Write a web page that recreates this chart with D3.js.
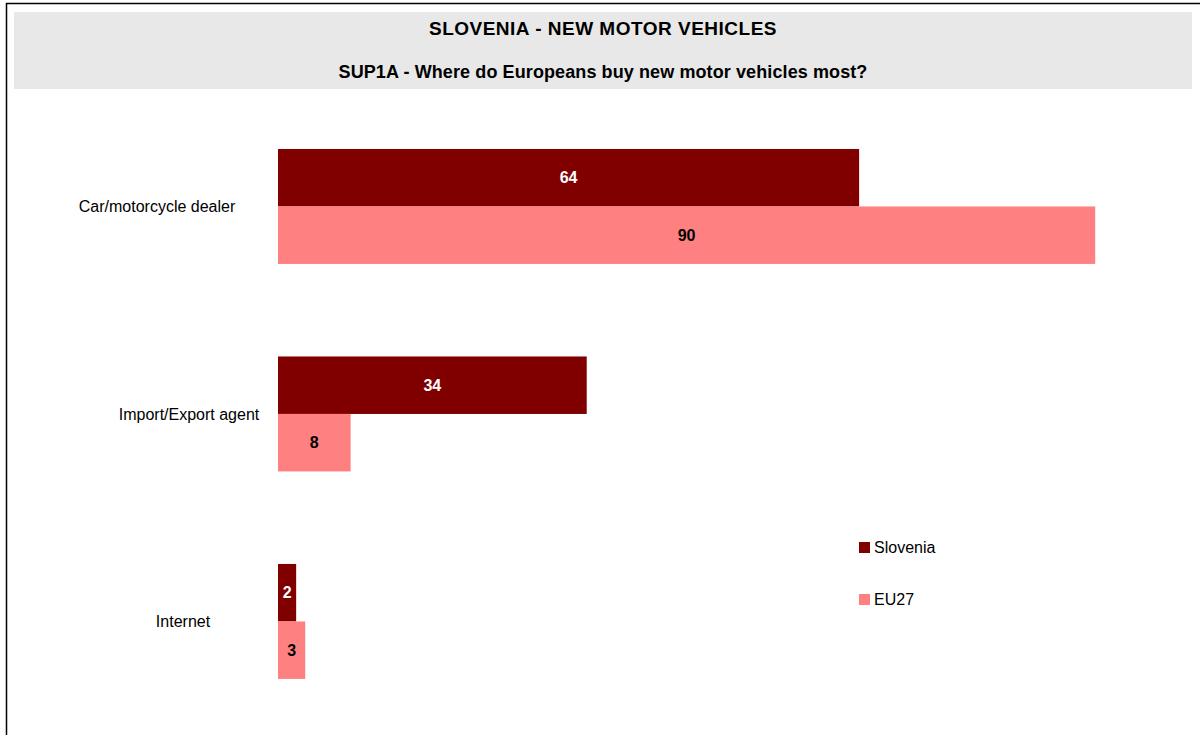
<!DOCTYPE html>
<html>
<head>
<meta charset="utf-8">
<script src="https://cdn.jsdelivr.net/npm/d3@7"></script>
<style>
  body { margin: 0; background: #fff; }
  svg { display: block; font-family: "Liberation Sans", Arial, sans-serif; }
</style>
</head>
<body>
<div id="chart"></div>
<script>
// chart data
const categories = ['Car/motorcycle dealer', 'Import/Export agent', 'Internet'];
const seriesNames = ['Slovenia', 'EU27'];
const slovenia = [64, 34, 2];
const eu27 = [90, 8, 3];
const colors = ['#800000', '#ff8080'];
const labelColors = ['#ffffff', '#000000'];
const title = 'SLOVENIA - NEW MOTOR VEHICLES';
const subtitle = 'SUP1A - Where do Europeans buy new motor vehicles most?';

// label centres as laid out in the original (not aligned the same way)
const catLabelX = [157, 189, 183];

const svgWidth = 1200, svgHeight = 735;

const svg = d3.select('#chart').append('svg')
  .attr('width', svgWidth)
  .attr('height', svgHeight);

// frame
svg.append('path')
  .attr('d', 'M6.5,735 V3.5 H1200')
  .attr('fill', 'none')
  .attr('stroke', '#000')
  .attr('stroke-width', 1.5);

// header band
svg.append('rect')
  .attr('x', 14).attr('y', 12)
  .attr('width', 1178).attr('height', 77)
  .attr('fill', '#e8e8e8');

svg.append('text')
  .attr('x', 603).attr('y', 35)
  .attr('text-anchor', 'middle')
  .attr('font-size', 19).attr('font-weight', 'bold')
  .attr('letter-spacing', 0.5)
  .text(title);

svg.append('text')
  .attr('x', 603).attr('y', 78)
  .attr('text-anchor', 'middle')
  .attr('font-size', 18).attr('font-weight', 'bold')
  .attr('letter-spacing', 0.1)
  .text(subtitle);

const x = d3.scaleLinear().domain([0, 100]).range([278, 1186]);
const y = d3.scaleBand().domain(categories)
  .range([102.7, 725.2])
  .paddingInner(0.446)
  .paddingOuter(0.223);
const ySub = d3.scaleBand().domain(seriesNames).range([0, y.bandwidth()]);

const rows = categories.map((c, i) => ({ cat: c, values: [slovenia[i], eu27[i]] }));

const groups = svg.selectAll('.group')
  .data(rows)
  .enter().append('g')
  .attr('class', 'group')
  .attr('transform', d => `translate(0,${y(d.cat)})`);

groups.selectAll('rect')
  .data(d => d.values.map((v, j) => ({ name: seriesNames[j], value: v, j })))
  .enter().append('rect')
  .attr('x', x(0))
  .attr('y', d => ySub(d.name))
  .attr('width', d => x(d.value) - x(0))
  .attr('height', ySub.bandwidth())
  .attr('fill', d => colors[d.j]);

groups.selectAll('.val')
  .data(d => d.values.map((v, j) => ({ name: seriesNames[j], value: v, j })))
  .enter().append('text')
  .attr('class', 'val')
  .attr('x', d => (x(0) + x(d.value)) / 2)
  .attr('y', d => ySub(d.name) + ySub.bandwidth() / 2)
  .attr('dy', '0.36em')
  .attr('text-anchor', 'middle')
  .attr('font-size', 16).attr('font-weight', 'bold')
  .attr('fill', d => labelColors[d.j])
  .text(d => d.value);

// category labels
svg.selectAll('.cat')
  .data(categories)
  .enter().append('text')
  .attr('class', 'cat')
  .attr('x', (d, i) => catLabelX[i])
  .attr('y', d => y(d) + y.bandwidth() / 2)
  .attr('dy', '0.36em')
  .attr('text-anchor', 'middle')
  .attr('font-size', 16)
  .text(d => d);

// legend
const legend = svg.selectAll('.legend')
  .data(seriesNames)
  .enter().append('g')
  .attr('class', 'legend')
  .attr('transform', (d, i) => `translate(859,${542 + i * 52})`);

legend.append('rect')
  .attr('width', 11).attr('height', 11)
  .attr('fill', (d, i) => colors[i]);

legend.append('text')
  .attr('x', 15).attr('y', 11)
  .attr('font-size', 16)
  .text(d => d);
</script>
</body>
</html>
